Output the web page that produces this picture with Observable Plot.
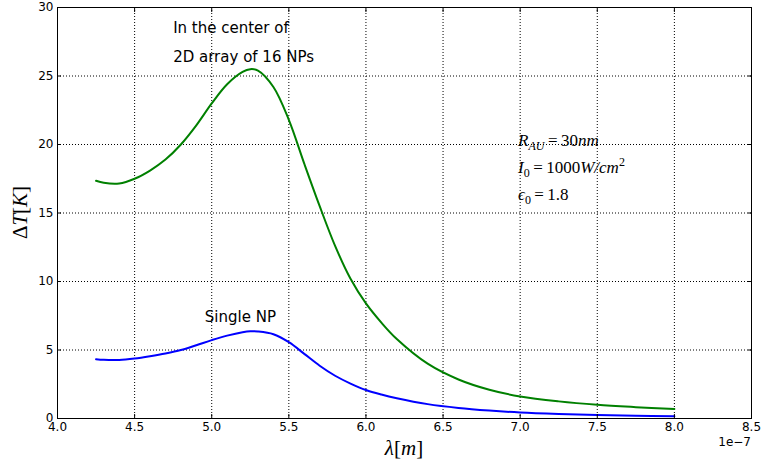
<!DOCTYPE html>
<html>
<head>
<meta charset="utf-8">
<script src="https://cdn.jsdelivr.net/npm/d3@7"></script>
<script src="https://cdn.jsdelivr.net/npm/@observablehq/plot@0.6"></script>
<style>
  html, body { margin: 0; padding: 0; background: white; }
  #chart svg { display: block; }
</style>
</head>
<body>
<div id="chart"></div>
<script>
// wavelength in units of 1e-7 m
const wavelength = [4.25, 4.3, 4.4, 4.5, 4.6, 4.7, 4.8, 4.9, 5.0, 5.1, 5.2, 5.25, 5.3, 5.4, 5.5, 5.6, 5.7, 5.8, 5.9, 6.0, 6.1, 6.2, 6.4, 6.6, 6.8, 7.0, 7.25, 7.5, 7.75, 8.0];
// Delta T [K], centre of 2D array of 16 NPs
const arrayDT = [17.35, 17.2, 17.15, 17.5, 18.1, 18.9, 20.0, 21.4, 23.0, 24.4, 25.3, 25.5, 25.4, 24.2, 21.8, 18.6, 15.5, 12.6, 10.2, 8.4, 7.0, 5.8, 4.0, 2.85, 2.1, 1.61, 1.25, 1.0, 0.83, 0.69];
// Delta T [K], single NP
const singleDT = [4.33, 4.28, 4.27, 4.38, 4.55, 4.75, 5.0, 5.35, 5.72, 6.05, 6.3, 6.37, 6.35, 6.15, 5.57, 4.72, 3.85, 3.12, 2.55, 2.08, 1.75, 1.48, 1.05, 0.77, 0.58, 0.44, 0.33, 0.25, 0.2, 0.17];

const xTicks = [4.0, 4.5, 5.0, 5.5, 6.0, 6.5, 7.0, 7.5, 8.0, 8.5];
const yTicks = [0, 5, 10, 15, 20, 25, 30];

const arrayLabel = "In the center of\n2D array of 16 NPs";
const singleLabel = "Single NP";

const plot = Plot.plot({
  width: 761,
  height: 466,
  marginLeft: 57,
  marginRight: 10,
  marginTop: 7,
  marginBottom: 48,
  x: {domain: [4.0, 8.5]},
  y: {domain: [0, 30]},
  style: {fontFamily: "DejaVu Sans", fontSize: "12px", color: "black", background: "white", overflow: "visible"},
  marks: [
    Plot.gridX(xTicks, {stroke: "black", strokeOpacity: 1, strokeDasharray: "1,2"}),
    Plot.gridY(yTicks, {stroke: "black", strokeOpacity: 1, strokeDasharray: "1,2"}),
    Plot.line(wavelength, {x: d => d, y: (d, i) => arrayDT[i], stroke: "#008000", strokeWidth: 2, curve: "catmull-rom"}),
    Plot.line(wavelength, {x: d => d, y: (d, i) => singleDT[i], stroke: "#0000ff", strokeWidth: 2, curve: "catmull-rom"}),
    Plot.frame({stroke: "black", strokeWidth: 1}),
    Plot.axisX(xTicks, {anchor: "bottom", tickSize: -4, tickPadding: 8, tickFormat: d => d.toFixed(1), label: null, fontSize: 12}),
    Plot.axisX(xTicks, {anchor: "top", tickSize: -4, tickFormat: () => "", label: null}),
    Plot.axisY(yTicks, {anchor: "left", tickSize: -4, tickPadding: 8, tickFormat: d => String(d), label: null, fontSize: 12}),
    Plot.axisY(yTicks, {anchor: "right", tickSize: -4, tickFormat: () => "", label: null}),
    Plot.text([arrayLabel], {x: 4.75, y: 27.75, text: d => d, textAnchor: "start", lineAnchor: "middle", lineHeight: 1.9, fontSize: 15, fill: "black"}),
    Plot.text([singleLabel], {x: 4.955, y: 7.38, text: d => d, textAnchor: "start", lineAnchor: "middle", fontSize: 15, fill: "black"})
  ]
});

document.getElementById("chart").appendChild(plot);

const sx = plot.scale("x"), sy = plot.scale("y");
const svg = d3.select(plot);
const mathFont = "'Liberation Serif', 'DejaVu Serif', serif";
const eq = "\u2009=\u2009";

// parameter annotations (math style); y is the baseline in data units
const params = [
  {y: 19.85, parts: [["R", "i"], ["AU", "subi"], [eq + "30", "n"], ["nm", "i"]]},
  {y: 17.87, parts: [["I", "i"], ["0", "sub"], [eq + "1000", "n"], ["W/cm", "i"], ["2", "sup"]]},
  {y: 15.9, parts: [["\u03F5", "i"], ["0", "sub"], [eq + "1.8", "n"]]}
];
const g = svg.append("g").attr("font-family", mathFont).attr("fill", "black").attr("text-anchor", "start");
for (const p of params) {
  const t = g.append("text")
    .attr("x", sx.apply(6.99))
    .attr("y", sy.apply(p.y))
    .attr("text-anchor", "start")
    .attr("font-size", 17);
  let shift = 0;
  for (const [s, kind] of p.parts) {
    const ts = t.append("tspan").text(s);
    let target = 0;
    if (kind === "sub" || kind === "subi") { target = 4; ts.attr("font-size", 12); }
    if (kind === "sup") { target = -7; ts.attr("font-size", 12); }
    if (kind === "i" || kind === "subi") ts.attr("font-style", "italic");
    if (target - shift !== 0) ts.attr("dy", target - shift);
    shift = target;
  }
}

// axis labels
const xl = svg.append("text")
  .attr("x", (sx.apply(4.0) + sx.apply(8.5)) / 2)
  .attr("y", 455)
  .attr("text-anchor", "middle")
  .attr("font-family", mathFont)
  .attr("font-size", 21);
xl.append("tspan").attr("font-style", "italic").text("\u03BB");
xl.append("tspan").text("[");
xl.append("tspan").attr("font-style", "italic").text("m");
xl.append("tspan").text("]");

const yl = svg.append("text")
  .attr("transform", `translate(27,${(sy.apply(0) + sy.apply(30)) / 2}) rotate(-90)`)
  .attr("text-anchor", "middle")
  .attr("font-family", mathFont)
  .attr("font-size", 21);
yl.append("tspan").text("\u0394");
yl.append("tspan").attr("font-style", "italic").text("T");
yl.append("tspan").text("[");
yl.append("tspan").attr("font-style", "italic").text("K");
yl.append("tspan").text("]");

svg.append("text")
  .attr("x", sx.apply(8.5))
  .attr("y", 446)
  .attr("text-anchor", "end")
  .attr("font-family", "DejaVu Sans")
  .attr("font-size", 12)
  .text("1e\u22127");
</script>
</body>
</html>
